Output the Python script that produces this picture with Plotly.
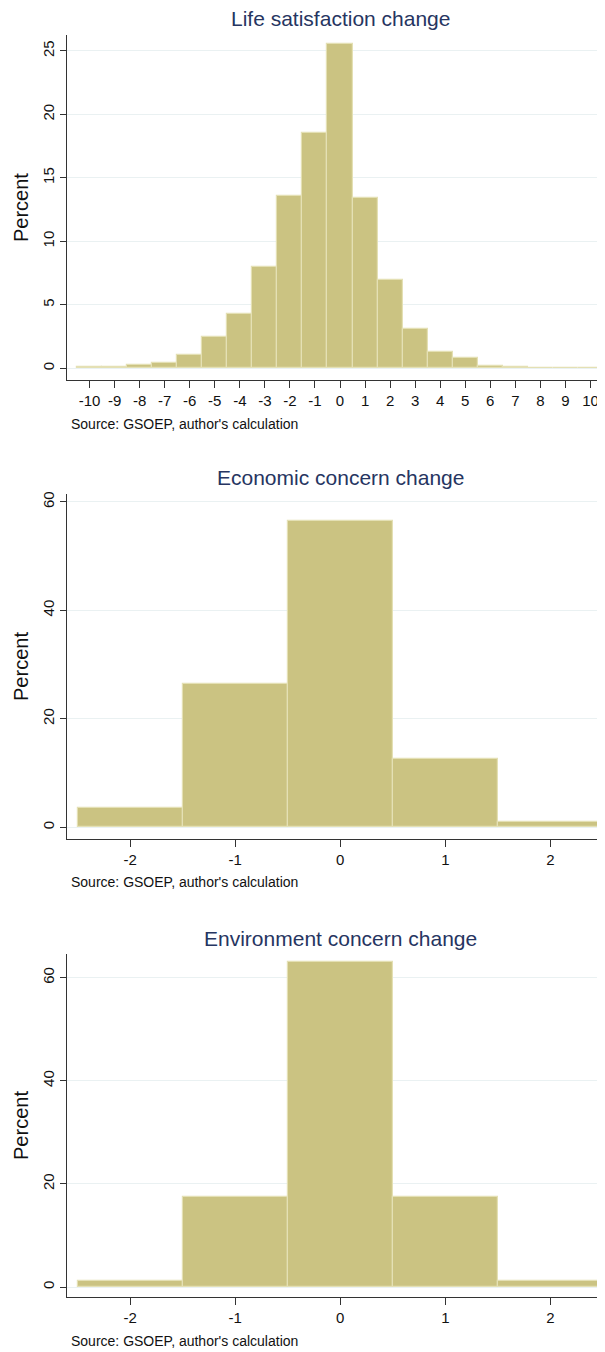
import plotly.graph_objects as go

# ---------------- data ----------------
life_bins = list(range(-10, 11))
life_pct = [0.08, 0.13, 0.26, 0.39, 1.08, 2.5, 4.26, 7.95, 13.6, 18.5, 25.55,
            13.4, 6.95, 3.08, 1.26, 0.82, 0.18, 0.13, 0.06, 0.05, 0.05]

econ_bins = [-2, -1, 0, 1, 2]
econ_pct = [3.64, 26.5, 56.4, 12.65, 0.93]

env_bins = [-2, -1, 0, 1, 2]
env_pct = [1.3, 17.45, 63.0, 17.45, 1.2]

titles = ["Life satisfaction change", "Economic concern change", "Environment concern change"]
source_note = "Source: GSOEP, author's calculation"
y_title = "Percent"

life_yticks = [0, 5, 10, 15, 20, 25]
concern_yticks = [0, 20, 40, 60]

# ---------------- styling / layout ----------------
OFF = 8                      # default page margin of the html body
W, H = 605 - OFF, 1352 - OFF
FONT = "Liberation Sans, Arial, sans-serif"
BAR = "#cbc382"
BAR_EDGE = "#e4e0b4"
TITLE_C = "#263561"
GRID = "#eaf1f2"
AXIS_C = "#333333"

# pixel boxes in the final screenshot: (left, right, top, bottom)
boxes = [(67, 603, 32, 378), (67, 603, 492, 838), (67, 603, 953, 1297)]
xranges = [[-10.9, 10.5], [-2.6, 2.5], [-2.6, 2.5]]
yranges = [[-0.94, 26.26], [-2.2, 61.47], [-1.94, 64.6]]
title_y = [16, 476, 938]
source_y = [422, 881, 1341]

series = [(life_bins, life_pct, life_yticks),
          (econ_bins, econ_pct, concern_yticks),
          (env_bins, env_pct, concern_yticks)]


def px_x(v):
    return (v - OFF) / W


def px_y(v):
    return (H - (v - OFF)) / H


fig = go.Figure()
annotations = []
for i, ((bins, pct, yt), (l, r, t, b)) in enumerate(zip(series, boxes)):
    n = "" if i == 0 else str(i + 1)
    fig.add_trace(go.Bar(
        x=bins, y=pct, width=1,
        marker=dict(color=BAR, line=dict(color=BAR_EDGE, width=1.2)),
        xaxis="x" + n, yaxis="y" + n, showlegend=False,
    ))
    xd = [px_x(l), min(px_x(r), 1.0)]
    yd = [px_y(b), px_y(t)]
    fig.update_layout(**{
        "xaxis" + n: dict(
            domain=xd, range=xranges[i], anchor="y" + n,
            tickmode="array", tickvals=bins, ticktext=[str(v) for v in bins],
            ticks="outside", ticklen=7, tickwidth=1.3, tickcolor=AXIS_C,
            showline=True, linecolor=AXIS_C, linewidth=1.3,
            showgrid=False, zeroline=False,
            tickfont=dict(family=FONT, size=15, color="#111111"),
        ),
        "yaxis" + n: dict(
            domain=yd, range=yranges[i], anchor="x" + n,
            tickmode="array", tickvals=yt, ticktext=[str(v) for v in yt],
            tickangle=-90,
            ticks="outside", ticklen=6, tickwidth=1.3, tickcolor=AXIS_C,
            showline=True, linecolor=AXIS_C, linewidth=1.3,
            showgrid=True, gridcolor=GRID, gridwidth=1.3, zeroline=False,
            tickfont=dict(family=FONT, size=15, color="#111111"),
            title=dict(text=y_title, font=dict(family=FONT, size=20, color="#111111"),
                       standoff=5),
        ),
    })
    annotations.append(dict(
        text=titles[i], x=px_x((l + r) / 2 + 5), y=px_y(title_y[i]),
        xref="paper", yref="paper", xanchor="center", yanchor="middle",
        showarrow=False, font=dict(family=FONT, size=21, color=TITLE_C),
    ))
    annotations.append(dict(
        text=source_note, x=px_x(69), y=px_y(source_y[i]),
        xref="paper", yref="paper", xanchor="left", yanchor="middle",
        showarrow=False, font=dict(family=FONT, size=14, color="#111111"),
    ))

fig.update_layout(
    width=W, height=H,
    margin=dict(l=0, r=0, t=0, b=0),
    paper_bgcolor="white", plot_bgcolor="white",
    bargap=0, annotations=annotations,
)

fig.write_html("out.html")
